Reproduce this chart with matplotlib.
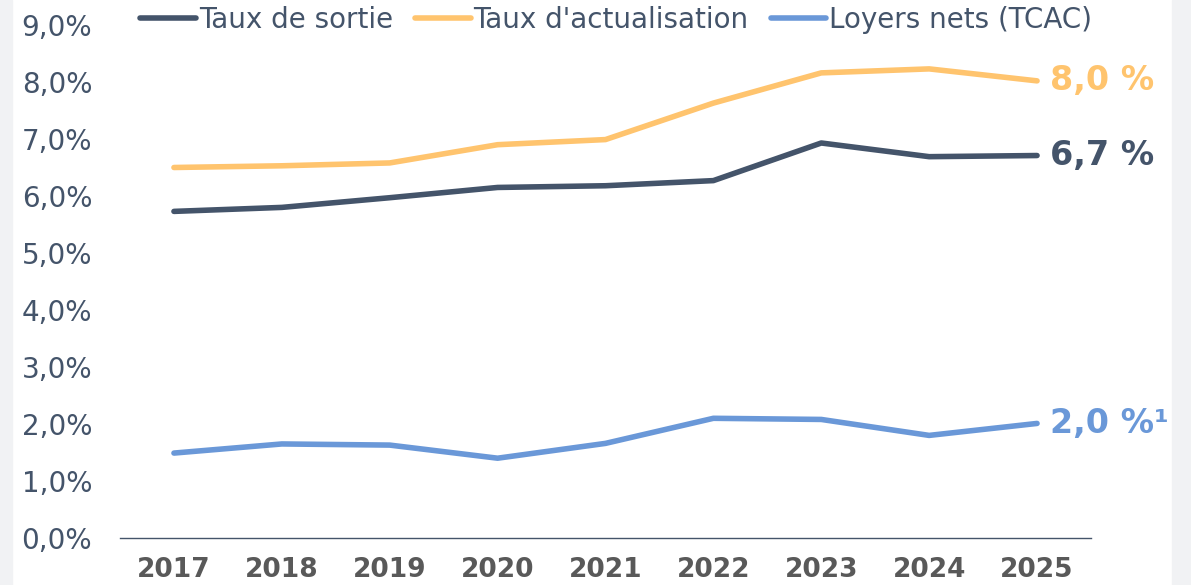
import matplotlib.pyplot as plt
from matplotlib.patches import Rectangle

# data
years = ['2017', '2018', '2019', '2020', '2021', '2022', '2023', '2024', '2025']
taux_sortie = [5.73, 5.80, 5.97, 6.15, 6.18, 6.27, 6.93, 6.69, 6.71]
taux_actu = [6.50, 6.53, 6.58, 6.90, 6.99, 7.63, 8.16, 8.23, 8.02]
loyers = [1.49, 1.65, 1.63, 1.40, 1.66, 2.10, 2.08, 1.80, 2.01]
end_labels = ['6,7 %', '8,0 %', '2,0 %\u00b9']
series_names = ['Taux de sortie', "Taux d'actualisation", 'Loyers nets (TCAC)']
yticks = [0, 1, 2, 3, 4, 5, 6, 7, 8, 9]

dark = '#44546A'
orange = '#FFC46E'
blue = '#6A98D8'
colors = [dark, orange, blue]

fig = plt.figure(figsize=(11.91, 5.85), dpi=100)
# light grey strips on both sides
fig.patches.append(Rectangle((0, 0), 12/1191, 1, transform=fig.transFigure,
                             color='#F1F2F4', zorder=0))
fig.patches.append(Rectangle((1172/1191, 0), 19/1191, 1, transform=fig.transFigure,
                             color='#F1F2F4', zorder=0))

ax = fig.add_axes([120/1191, 47/585, 971/1191, 513/585])
x = range(len(years))
for vals, c, name, lab in zip([taux_sortie, taux_actu, loyers], colors, series_names, end_labels):
    ax.plot(x, vals, color=c, lw=4, solid_capstyle='round', solid_joinstyle='round', label=name)
    ax.annotate(lab, (len(years) - 1, vals[-1]), xytext=(9, 0), textcoords='offset points',
                ha='left', va='center', color=c, fontsize=24, fontweight='bold',
                annotation_clip=False)

ax.set_xlim(-0.5, len(years) - 0.5)
ax.set_ylim(0, 9)
ax.set_yticks(yticks)
ax.set_yticklabels([f'{v},0%' for v in yticks], color=dark, fontsize=20)
ax.set_xticks(list(x))
ax.set_xticklabels(years, color='#595959', fontsize=19, fontweight='bold')
ax.tick_params(axis='y', length=0, pad=20)
ax.tick_params(axis='x', length=0, pad=14)
for s in ['top', 'right', 'left']:
    ax.spines[s].set_visible(False)
ax.spines['bottom'].set_color(dark)
ax.spines['bottom'].set_linewidth(1)

leg = ax.legend(loc='center', bbox_to_anchor=(0.511, 1.01), ncol=3, frameon=False,
                fontsize=20, handlelength=2.0, handletextpad=0.1, columnspacing=0.8,
                borderaxespad=0)
for t in leg.get_texts():
    t.set_color(dark)

fig.savefig('out.png', dpi=100)
